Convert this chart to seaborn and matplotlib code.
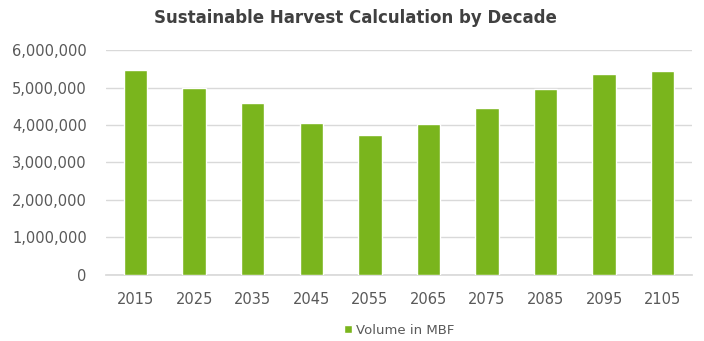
import matplotlib
matplotlib.use("Agg")
import matplotlib.pyplot as plt
import matplotlib.ticker as mticker
import pandas as pd
import seaborn as sns

decades = ["2015", "2025", "2035", "2045", "2055", "2065", "2075", "2085", "2095", "2105"]
volume_mbf = [5480000, 5000000, 4600000, 4050000, 3730000, 4020000, 4450000, 4970000, 5360000, 5450000]

sns.set_theme(style="white")
plt.rcParams["font.family"] = ["DejaVu Sans"]

df = pd.DataFrame({"Decade": decades, "Volume in MBF": volume_mbf})

fig = plt.figure(figsize=(7.04, 3.41), dpi=100)
ax = fig.add_axes([0.151, 0.194, 0.832, 0.659])

bar_color = "#7AB51D"
sns.barplot(data=df, x="Decade", y="Volume in MBF", color=bar_color,
            width=0.4, saturation=1, ax=ax, label="Volume in MBF", zorder=3)

ax.set_ylim(0, 6000000)
ax.yaxis.set_major_locator(mticker.MultipleLocator(1000000))
ax.yaxis.set_major_formatter(mticker.FuncFormatter(lambda v, p: f"{int(v):,}"))
ax.grid(axis="y", color="#d9d9d9", linewidth=1, zorder=0)
for s in ["top", "right", "left"]:
    ax.spines[s].set_visible(False)
ax.spines["bottom"].set_color("#d9d9d9")
ax.tick_params(axis="both", length=0, labelsize=10.5, colors="#595959")
ax.tick_params(axis="x", pad=12)
ax.tick_params(axis="y", pad=14)
ax.set_xlabel("")
ax.set_ylabel("")

fig.suptitle("Sustainable Harvest Calculation by Decade", x=0.505, y=0.975,
             fontsize=12, fontweight="bold", color="#404040")

ax.legend(loc="upper center", bbox_to_anchor=(0.5, -0.165), frameon=False,
          fontsize=9.5, handlelength=0.6, handleheight=0.6, handletextpad=0.3,
          labelcolor="#595959")

fig.savefig("out.png", dpi=100)
